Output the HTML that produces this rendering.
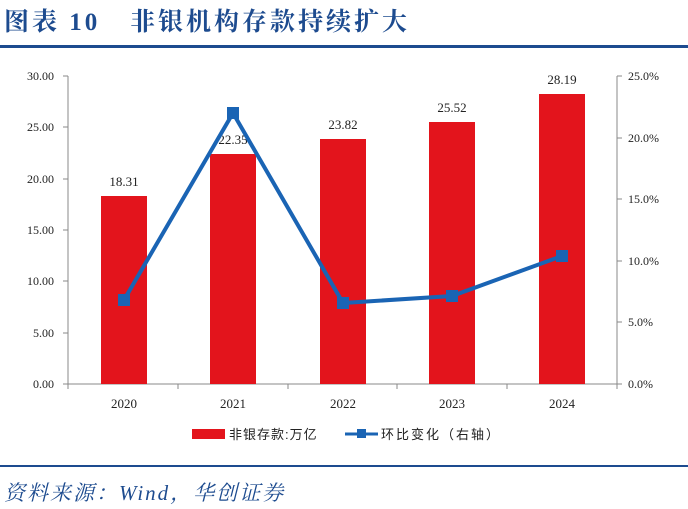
<!DOCTYPE html>
<html><head><meta charset="utf-8"><style>
body{margin:0;background:#fff;width:688px;height:509px;overflow:hidden}
svg{display:block}
</style></head><body>
<svg width="688" height="509" xmlns="http://www.w3.org/2000/svg" font-family="'Liberation Serif','Noto Serif CJK SC',serif">
<text x="4" y="30" font-size="25" font-weight="bold" fill="#1d4b8f" letter-spacing="3" font-family="'Liberation Serif','Noto Serif CJK SC',serif">图表 10<tspan x="130">非银机构存款持续扩大</tspan></text>
<rect x="0" y="45" width="688" height="3" fill="#1d4b8f"/>
<g font-size="12" fill="#222">
<line x1="68" y1="76" x2="68" y2="384" stroke="#888"/>
<line x1="617" y1="76" x2="617" y2="384" stroke="#888"/>
<line x1="68" y1="384" x2="617" y2="384" stroke="#888"/>
<g stroke="#888">
<line x1="63" y1="76" x2="68" y2="76"/><line x1="63" y1="127" x2="68" y2="127"/><line x1="63" y1="179" x2="68" y2="179"/><line x1="63" y1="230" x2="68" y2="230"/><line x1="63" y1="281" x2="68" y2="281"/><line x1="63" y1="333" x2="68" y2="333"/><line x1="63" y1="384" x2="68" y2="384"/>
<line x1="617" y1="76" x2="622" y2="76"/><line x1="617" y1="138" x2="622" y2="138"/><line x1="617" y1="199" x2="622" y2="199"/><line x1="617" y1="261" x2="622" y2="261"/><line x1="617" y1="322" x2="622" y2="322"/><line x1="617" y1="384" x2="622" y2="384"/>
<line x1="68" y1="384" x2="68" y2="389"/><line x1="178" y1="384" x2="178" y2="389"/><line x1="288" y1="384" x2="288" y2="389"/><line x1="397" y1="384" x2="397" y2="389"/><line x1="507" y1="384" x2="507" y2="389"/><line x1="617" y1="384" x2="617" y2="389"/>
</g>
<g text-anchor="end">
<text x="54" y="80">30.00</text><text x="54" y="131">25.00</text><text x="54" y="183">20.00</text><text x="54" y="234">15.00</text><text x="54" y="285">10.00</text><text x="54" y="337">5.00</text><text x="54" y="388">0.00</text>
</g>
<g>
<text x="628" y="80">25.0%</text><text x="628" y="142">20.0%</text><text x="628" y="203">15.0%</text><text x="628" y="265">10.0%</text><text x="628" y="326">5.0%</text><text x="628" y="388">0.0%</text>
</g>
<g fill="#e3141c">
<rect x="101" y="196" width="46" height="188"/><rect x="210" y="154" width="46" height="230"/><rect x="320" y="139" width="46" height="245"/><rect x="429" y="122" width="46" height="262"/><rect x="539" y="94" width="46" height="290"/>
</g>
<g text-anchor="middle" font-size="13">
<text x="124" y="186">18.31</text><text x="233" y="144">22.35</text><text x="343" y="129">23.82</text><text x="452" y="112">25.52</text><text x="562" y="84">28.19</text>
<text x="124" y="408">2020</text><text x="233" y="408">2021</text><text x="343" y="408">2022</text><text x="452" y="408">2023</text><text x="562" y="408">2024</text>
</g>
<polyline points="124,300 233,113 343,303 452,296 562,256" fill="none" stroke="#1a64b4" stroke-width="4"/>
<g fill="#1a64b4">
<rect x="118" y="294" width="12" height="12"/><rect x="227" y="107" width="12" height="12"/><rect x="337" y="297" width="12" height="12"/><rect x="446" y="290" width="12" height="12"/><rect x="556" y="250" width="12" height="12"/>
</g>
<rect x="192" y="429" width="33" height="10" fill="#e3141c"/>
<text x="229" y="439" font-size="13" letter-spacing="1" font-family="'Liberation Sans','Noto Sans CJK SC',sans-serif">非银存款:万亿</text>
<line x1="345" y1="434" x2="378" y2="434" stroke="#1a64b4" stroke-width="3"/>
<rect x="357" y="429" width="9" height="9" fill="#1a64b4"/>
<text x="381" y="439" font-size="13" letter-spacing="2" font-family="'Liberation Sans','Noto Sans CJK SC',sans-serif">环比变化（右轴）</text>
</g>
<rect x="0" y="465" width="688" height="2" fill="#1d4b8f"/>
<text x="4" y="500" font-size="21" font-style="italic" fill="#1d4b8f" letter-spacing="2">资料来源：Wind，华创证券</text>
</svg>
</body></html>
